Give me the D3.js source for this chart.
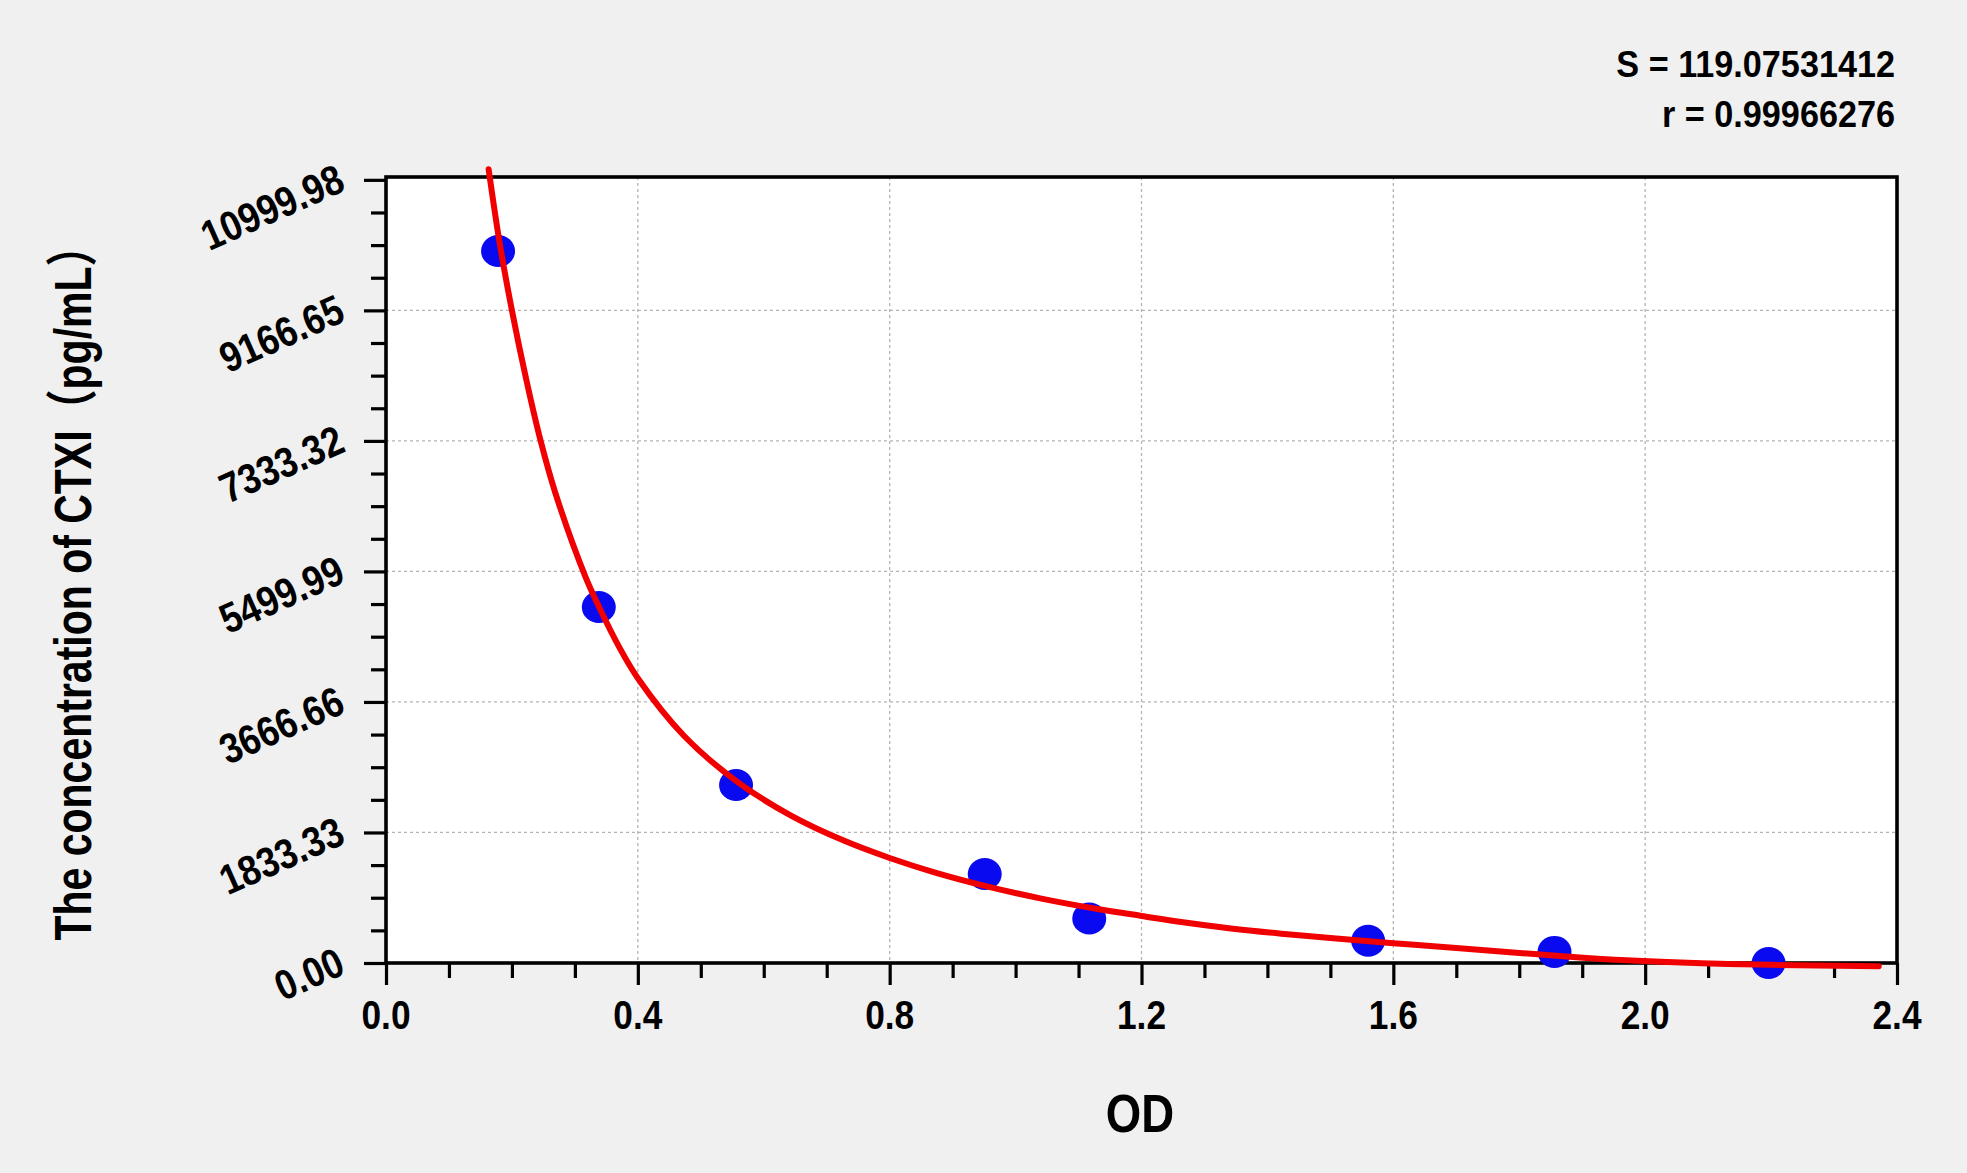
<!DOCTYPE html>
<html>
<head>
<meta charset="utf-8">
<script src="https://cdn.jsdelivr.net/npm/d3@7"></script>
<style>
  html, body { margin: 0; padding: 0; background: #f0f0f0; }
  svg { display: block; }
  text { font-family: "Liberation Sans", Arial, "Noto Sans CJK SC", sans-serif; font-weight: bold; fill: #000; }
</style>
</head>
<body>
<script>
// ---- data ----
const odValues   = [0.178, 0.338, 0.556, 0.951, 1.117, 1.560, 1.856, 2.196];
const concValues = [10000, 5000, 2500, 1250, 625, 312.5, 156, 0];

// fitted curve (OD, concentration)
const curveOD   = [0.163, 0.180, 0.200, 0.223, 0.246, 0.269, 0.317, 0.339, 0.370, 0.400, 0.474, 0.558, 0.644, 0.729, 0.800, 0.871, 0.956, 1.041, 1.130, 1.200, 1.263, 1.342, 1.422, 1.500, 1.600, 1.700, 1.790, 1.880, 1.970, 2.090, 2.200, 2.371];
const curveConc = [11150, 10140, 9167, 8187, 7320, 6602, 5420, 4990, 4444, 4000, 3185, 2545, 2067, 1712, 1475, 1274, 1073, 905, 759, 661, 575, 485, 412, 352, 279, 211, 149, 88, 38, -4, -26, -44];

const xTickValues = [0.0, 0.4, 0.8, 1.2, 1.6, 2.0, 2.4];
const xTickLabels = ["0.0", "0.4", "0.8", "1.2", "1.6", "2.0", "2.4"];
const yTickValues = [0, 1833.33, 3666.66, 5499.99, 7333.32, 9166.65, 10999.98];
const yTickLabels = ["0.00", "1833.33", "3666.66", "5499.99", "7333.32", "9166.65", "10999.98"];

const statLines = ["S = 119.07531412", "r = 0.99966276"];
const xTitle = "OD";
const yTitle = "The concentration of  CTXI\uFF08pg/mL\uFF09";

// ---- layout ----
const W = 1967, H = 1173;
const L = 386, R = 1897, T = 177, B = 963;
const xMax = 2.4, yMax = 11040;
const HSCALE = 0.86;

const svg = d3.select("body").append("svg").attr("width", W).attr("height", H);
svg.append("rect").attr("width", W).attr("height", H).attr("fill", "#f0f0f0");

const x = d3.scaleLinear().domain([0, xMax]).range([L, R]);
const y = d3.scaleLinear().domain([0, yMax]).range([B, T]);

// plot background
svg.append("rect").attr("x", L).attr("y", T).attr("width", R - L).attr("height", B - T).attr("fill", "#ffffff");

// grid
const grid = svg.append("g");
grid.selectAll("line.gx").data(xTickValues.filter(v => v > 0 && v < xMax)).join("line")
  .attr("x1", d => x(d)).attr("x2", d => x(d)).attr("y1", T).attr("y2", B)
  .attr("stroke", "#b4b4b4").attr("stroke-width", 1.3).attr("stroke-dasharray", "3,3");
grid.selectAll("line.gy").data(yTickValues.filter(v => v > 0 && y(v) > T + 6)).join("line")
  .attr("x1", L).attr("x2", R).attr("y1", d => y(d)).attr("y2", d => y(d))
  .attr("stroke", "#b4b4b4").attr("stroke-width", 1.3).attr("stroke-dasharray", "3,3");

// axes via d3
const xMinor = d3.range(0, 24).map(i => i * 0.1).filter(v => Math.abs(v / 0.4 - Math.round(v / 0.4)) > 1e-6);
const yMinor = [];
for (let i = 0; i < yTickValues.length - 1; i++) {
  const a = yTickValues[i], b = yTickValues[i + 1];
  for (let k = 1; k < 4; k++) yMinor.push(a + (b - a) * k / 4);
}

const xAxisMajor = d3.axisBottom(x).tickValues(xTickValues).tickSize(22).tickFormat("");
const xAxisMinor = d3.axisBottom(x).tickValues(xMinor).tickSize(15).tickFormat("");
const yAxisMajor = d3.axisLeft(y).tickValues(yTickValues).tickSize(22).tickFormat("");
const yAxisMinor = d3.axisLeft(y).tickValues(yMinor).tickSize(15).tickFormat("");

function styleAxis(g) {
  g.select(".domain").remove();
  g.selectAll(".tick line").attr("stroke", "#000").attr("stroke-width", 3.2);
}
svg.append("g").attr("transform", `translate(0,${B})`).call(xAxisMajor).call(styleAxis);
svg.append("g").attr("transform", `translate(0,${B})`).call(xAxisMinor).call(styleAxis);
svg.append("g").attr("transform", `translate(${L},0)`).call(yAxisMajor).call(styleAxis);
svg.append("g").attr("transform", `translate(${L},0)`).call(yAxisMinor).call(styleAxis);

// frame
svg.append("rect").attr("x", L).attr("y", T).attr("width", R - L).attr("height", B - T)
  .attr("fill", "none").attr("stroke", "#000").attr("stroke-width", 3.6);

// helper for condensed text
function condensed(sel, factor) {
  sel.each(function () {
    const n = this.getComputedTextLength();
    d3.select(this).attr("textLength", n * factor).attr("lengthAdjust", "spacingAndGlyphs");
  });
  return sel;
}

// x tick labels
svg.append("g").selectAll("text").data(xTickValues).join("text")
  .attr("x", d => x(d)).attr("y", 1029)
  .attr("text-anchor", "middle").attr("font-size", 41)
  .text((d, i) => xTickLabels[i])
  .call(s => condensed(s, HSCALE));

// y tick labels (rotated)
svg.append("g").selectAll("text").data(yTickValues).join("text")
  .attr("transform", d => `translate(347,${y(d) + 10}) rotate(-24)`)
  .attr("text-anchor", "end").attr("font-size", 42)
  .text((d, i) => yTickLabels[i])
  .call(s => condensed(s, HSCALE));

// points
svg.append("g").selectAll("ellipse").data(d3.zip(odValues, concValues)).join("ellipse")
  .attr("cx", d => x(d[0])).attr("cy", d => y(d[1]))
  .attr("rx", 17).attr("ry", 16).attr("fill", "#0a0af0");

// fitted curve
const line = d3.line().x(d => x(d[0])).y(d => y(d[1])).curve(d3.curveCatmullRom.alpha(0.5));
svg.append("path").datum(d3.zip(curveOD, curveConc))
  .attr("d", line).attr("fill", "none").attr("stroke", "#f00000").attr("stroke-width", 6)
  .attr("stroke-linejoin", "round").attr("stroke-linecap", "round");

// stats
svg.append("g").selectAll("text").data(statLines).join("text")
  .attr("x", 1895).attr("y", (d, i) => 77 + i * 50)
  .attr("text-anchor", "end").attr("font-size", 36)
  .text(d => d)
  .call(s => condensed(s, 0.95));

// axis titles
svg.append("text").attr("x", 1140).attr("y", 1132).attr("text-anchor", "middle")
  .attr("font-size", 53).text(xTitle).call(s => condensed(s, HSCALE));

svg.append("text").attr("transform", "translate(91,583) rotate(-90)")
  .attr("text-anchor", "middle").attr("font-size", 52)
  .attr("textLength", 715).attr("lengthAdjust", "spacingAndGlyphs")
  .text(yTitle);
</script>
</body>
</html>
